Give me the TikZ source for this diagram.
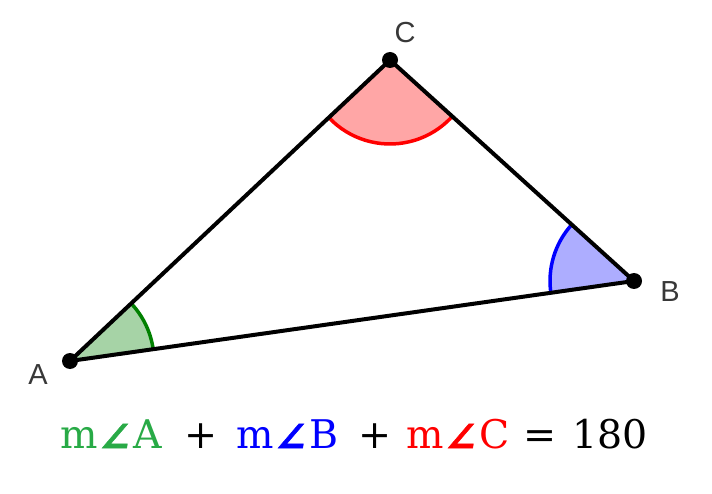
\documentclass[tikz,border=0pt]{standalone}
\usepackage{fontspec}
\newfontfamily\labelfont{Liberation Sans}
\newfontfamily\eqfont{DejaVu Serif}
\newfontfamily\angfont[FakeSlant=0.15,FakeBold=1.5]{DejaVu Sans}
\usetikzlibrary{angles}
\definecolor{angA}{RGB}{0,128,0}
\definecolor{txtA}{RGB}{40,170,70}
\definecolor{angB}{RGB}{0,0,255}
\definecolor{angC}{RGB}{255,0,0}
\newcommand{\angsym}{{\angfont\bfseries\fontsize{33}{36}\selectfont ∠}}
\newcommand{\mang}[1]{m\hspace{2pt}\angsym\hspace{4pt}#1}
\tikzset{
  side/.style={line width=4pt, line cap=round},
  vertex/.style={circle, fill=black, inner sep=0pt, minimum size=16pt},
  vlabel/.style={font=\labelfont\fontsize{29}{32}\selectfont, text=black!78},
  angmark/.style={line width=3.5pt, angle radius=84pt},
  eqterm/.style={anchor=base west, inner sep=0pt, font=\eqfont\fontsize{39.5}{42}\selectfont}
}
\begin{document}
\begin{tikzpicture}[x=1pt,y=1pt]
\useasboundingbox (0,0) rectangle (712,-494);
\coordinate (A) at (70,-361);
\coordinate (B) at (634,-281);
\coordinate (C) at (390,-60);
\pic[angmark, draw=angA, fill=angA!35] {angle = B--A--C};
\pic[angmark, draw=angB, fill=angB!32] {angle = C--B--A};
\pic[angmark, draw=angC, fill=angC!35] {angle = A--C--B};
\draw[side] (A) -- (B) -- (C) -- cycle;
\node[vertex] (vA) at (A) {};
\node[vertex] (vB) at (B) {};
\node[vertex] (vC) at (C) {};
\node[vlabel] (lA) at (38,-375) {A};
\node[vlabel] (lB) at (670,-292) {B};
\node[vlabel] (lC) at (405,-33) {C};
\node[eqterm, text=txtA] (tA) at (60,-448) {\mang{A}};
\node[eqterm] (p1) at (184,-448) {+};
\node[eqterm, text=angB] (tB) at (236,-448) {\mang{B}};
\node[eqterm] (p2) at (358,-448) {+};
\node[eqterm, text=angC] (tC) at (406,-448) {\mang{C}};
\node[eqterm] (eq) at (523,-448) {=};
\node[eqterm] (res) at (572,-448) {180};
\end{tikzpicture}
\end{document}
